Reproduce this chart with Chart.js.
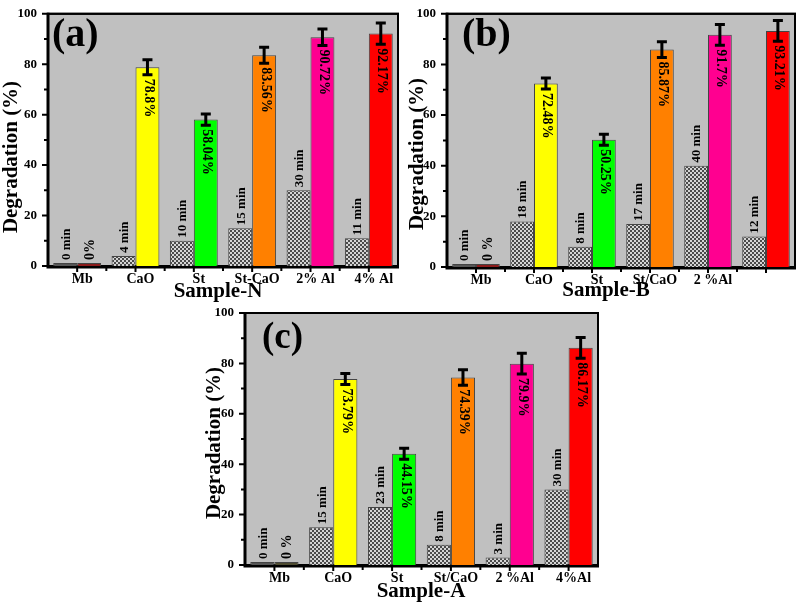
<!DOCTYPE html>
<html>
<head>
<meta charset="utf-8">
<script src="https://cdn.jsdelivr.net/npm/chart.js@4.4.1/dist/chart.umd.min.js"></script>
<style>
  html, body { margin: 0; padding: 0; background: #ffffff; }
  body { width: 804px; height: 606px; position: relative; overflow: hidden; }
  canvas { position: absolute; }
</style>
</head>
<body>
<canvas id="ca" width="400" height="302" style="left:0px;top:0px;width:400px;height:302px"></canvas>
<canvas id="cb" width="404" height="302" style="left:400px;top:0px;width:404px;height:302px"></canvas>
<canvas id="cc" width="404" height="316" style="left:200px;top:290px;width:404px;height:316px"></canvas>
<script>
// ---------- DATA ----------
const labelsA = ["Mb", "CaO", "St", "St-CaO", "2% Al", "4% Al"];
const labelsB = ["Mb", "CaO", "St", "St/CaO", "2 %Al", ""];
const labelsC = ["Mb", "CaO", "St", "St/CaO", "2 %Al", "4%Al"];

// time bars (grey hatched), minutes
const timeBarsA = [1.2, 4, 10, 15, 30, 11];
const timeBarsB = [1.2, 18, 8, 17, 40, 12];
const timeBarsC = [1.2, 15, 23, 8, 3, 30];
const timeTextA = ["0 min", "4 min", "10 min", "15 min", "30 min", "11 min"];
const timeTextB = ["0 min", "18 min", "8 min", "17 min", "40 min", "12 min"];
const timeTextC = ["0 min", "15 min", "23 min", "8 min", "3 min", "30 min"];

// degradation bars (coloured), %
const degA = [1.2, 78.8, 58.04, 83.56, 90.72, 92.17];
const degB = [1.2, 72.48, 50.25, 85.87, 91.7, 93.21];
const degC = [1.2, 73.79, 44.15, 74.39, 79.9, 86.17];
const degTextA = ["0%", "78.8%", "58.04%", "83.56%", "90.72%", "92.17%"];
const degTextB = ["0 %", "72.48%", "50.25%", "85.87%", "91.7%", "93.21%"];
const degTextC = ["0 %", "73.79%", "44.15%", "74.39%", "79.9%", "86.17%"];

// error bars (±)
const errA = [0, 3.0, 2.2, 3.2, 3.3, 4.2];
const errB = [0, 2.2, 2.2, 3.1, 4.1, 4.1];
const errC = [0, 2.2, 2.2, 3.1, 4.1, 4.1];

const yTicks = [0, 20, 40, 60, 80, 100];

// ---------- STYLE ----------
const FONT = "'Liberation Serif', 'Times New Roman', serif";

function hatch() {
  const c = document.createElement('canvas');
  c.width = 4; c.height = 4;
  const x = c.getContext('2d');
  x.fillStyle = '#d4d4d4'; x.fillRect(0, 0, 4, 4);
  x.fillStyle = '#4a4a4a'; x.fillRect(0, 0, 2, 2); x.fillRect(2, 2, 2, 2);
  return x.createPattern(c, 'repeat');
}

const panelPlugin = {
  id: 'panel',
  beforeDatasetsDraw(chart) {
    const { ctx, chartArea: a } = chart;
    ctx.save();
    ctx.fillStyle = '#c0c0c0';
    ctx.fillRect(a.left, a.top, a.right - a.left, a.bottom - a.top);
    // frame drawn under the bars
    ctx.strokeStyle = '#000';
    ctx.lineWidth = 2;
    ctx.strokeRect(a.left, a.top, a.right - a.left, a.bottom - a.top);
    ctx.lineWidth = 3;
    ctx.beginPath();
    ctx.moveTo(a.left, a.top - 1); ctx.lineTo(a.left, a.bottom + 1);
    ctx.lineTo(a.right + 1, a.bottom + 1);
    ctx.stroke();
    ctx.restore();
  },
  afterDatasetsDraw(chart, args, o) {
    const { ctx, chartArea: a, scales } = chart;
    const ys = scales.y;
    const m0 = chart.getDatasetMeta(0), m1 = chart.getDatasetMeta(1);
    ctx.save();
    ctx.fillStyle = '#000';
    ctx.font = 'bold 13px ' + FONT;
    m0.data.forEach((bar, i) => {
      ctx.save();
      ctx.translate(bar.x + 1, bar.y - 3);
      ctx.rotate(-Math.PI / 2);
      ctx.textAlign = 'left'; ctx.textBaseline = 'middle';
      ctx.fillText(o.times[i], 0, 0);
      ctx.restore();
    });
    ctx.font = 'bold 14px ' + FONT;
    m1.data.forEach((bar, i) => {
      const e = o.errors[i];
      ctx.save();
      if (e > 0) {
        const y0 = ys.getPixelForValue(chart.data.datasets[1].data[i] - e) + 4;
        ctx.translate(bar.x + 1, y0);
        ctx.rotate(Math.PI / 2);
      } else {
        ctx.translate(bar.x + 1, bar.y - 3);
        ctx.rotate(-Math.PI / 2);
      }
      ctx.textAlign = 'left'; ctx.textBaseline = 'middle';
      ctx.fillText(o.degText[i], 0, 0);
      ctx.restore();
    });
    ctx.strokeStyle = '#000';
    m1.data.forEach((bar, i) => {
      const e = o.errors[i];
      if (!e) return;
      const v = chart.data.datasets[1].data[i];
      const yt = ys.getPixelForValue(v + e), yb = ys.getPixelForValue(v - e);
      ctx.lineWidth = 3;
      ctx.beginPath();
      ctx.moveTo(bar.x, yt); ctx.lineTo(bar.x, yb);
      ctx.moveTo(bar.x - 5, yt); ctx.lineTo(bar.x + 5, yt);
      ctx.moveTo(bar.x - 5, yb); ctx.lineTo(bar.x + 5, yb);
      ctx.stroke();
    });
    ctx.restore();
  },
  afterDraw(chart, args, o) {
    const { ctx, chartArea: a, scales } = chart;
    const xs = scales.x, ys = scales.y;
    ctx.save();
    ctx.strokeStyle = '#000';
    // top/right border over bars
    ctx.lineWidth = 2;
    ctx.beginPath();
    ctx.moveTo(a.left, a.top); ctx.lineTo(a.right, a.top); ctx.lineTo(a.right, a.bottom);
    ctx.stroke();
    // y ticks
    ctx.lineWidth = 2;
    ctx.beginPath();
    for (let v = 0; v <= 100; v += 10) {
      const y = ys.getPixelForValue(v);
      const len = (v % 20 === 0) ? 6 : 4;
      ctx.moveTo(a.left, y); ctx.lineTo(a.left - len, y);
    }
    const n = chart.data.labels.length;
    for (let i = 0; i < n; i++) {
      const x = xs.getPixelForValue(i);
      ctx.moveTo(x, a.bottom); ctx.lineTo(x, a.bottom + 6);
      if (i > 0) {
        const xb = (xs.getPixelForValue(i - 1) + x) / 2;
        ctx.moveTo(xb, a.bottom); ctx.lineTo(xb, a.bottom + 5);
      }
    }
    ctx.stroke();
    ctx.fillStyle = '#000';
    ctx.font = 'bold ' + o.letterSize + 'px ' + FONT;
    ctx.textAlign = 'left'; ctx.textBaseline = 'middle';
    ctx.fillText(o.letter, o.letterX, o.letterY);
    ctx.font = 'bold 21px ' + FONT;
    ctx.save();
    ctx.translate(o.yTitleX, o.yTitleY);
    ctx.rotate(-Math.PI / 2);
    ctx.textAlign = 'center'; ctx.textBaseline = 'middle';
    ctx.fillText('Degradation (%)', 0, 0);
    ctx.restore();
    ctx.font = 'bold 21px ' + FONT;
    ctx.textAlign = 'center'; ctx.textBaseline = 'middle';
    ctx.fillText(o.xTitle, o.xTitleX, o.xTitleY);
    ctx.restore();
  }
};

function makeChart(id, cfg) {
  const pat = hatch();
  const greyColors = cfg.timeBars.map((v, i) => i === 0 ? '#555555' : pat);
  const degColors = [cfg.mbColor, '#ffff00', '#00ff00', '#ff8000', '#ff0090', '#ff0000'];
  return new Chart(document.getElementById(id), {
    type: 'bar',
    data: {
      labels: cfg.labels,
      datasets: [
        { data: cfg.timeBars, backgroundColor: greyColors, borderColor: '#444', borderWidth: 1,
          categoryPercentage: 0.82, barPercentage: 1.0 },
        { data: cfg.deg, backgroundColor: degColors, borderColor: '#444', borderWidth: 1,
          categoryPercentage: 0.82, barPercentage: 1.0 }
      ]
    },
    options: {
      responsive: false,
      animation: false,
      events: [],
      layout: { padding: { top: cfg.padTop, right: cfg.padRight, left: 0, bottom: 0 } },
      plugins: {
        legend: { display: false },
        tooltip: { enabled: false },
        panel: {
          times: cfg.timeText, degText: cfg.degText, errors: cfg.err,
          letter: cfg.letter, letterX: cfg.letterX, letterY: cfg.letterY, letterSize: cfg.letterSize,
          yTitleX: cfg.yTitleX, yTitleY: cfg.yTitleY,
          xTitle: cfg.xTitle, xTitleX: cfg.xTitleX, xTitleY: cfg.xTitleY
        }
      },
      scales: {
        x: {
          grid: { display: false, drawTicks: true, tickLength: 5 },
          border: { display: false },
          ticks: { color: '#000', font: { family: FONT, size: 14, weight: 'bold' }, padding: 0,
                   labelOffset: 5, maxRotation: 0, autoSkip: false },
          afterFit: s => { s.height = cfg.xAxisH; }
        },
        y: {
          min: 0, max: 100,
          afterBuildTicks: s => { s.ticks = yTicks.map(v => ({ value: v })); },
          grid: { display: false, drawTicks: true, tickLength: 5 },
          border: { display: false },
          ticks: { color: '#000', font: { family: FONT, size: 13, weight: 'bold' }, padding: 6 },
          afterFit: s => { s.width = cfg.yAxisW; }
        }
      }
    },
    plugins: [panelPlugin]
  });
}

makeChart('ca', {
  labels: labelsA, timeBars: timeBarsA, timeText: timeTextA, deg: degA, degText: degTextA, err: errA,
  mbColor: '#8b1a1a', padTop: 10, padRight: 2, yAxisW: 48, xAxisH: 36,
  letter: '(a)', letterX: 52, letterY: 36, letterSize: 40,
  yTitleX: 12, yTitleY: 157, xTitle: 'Sample-N', xTitleX: 218, xTitleY: 292
});
makeChart('cb', {
  labels: labelsB, timeBars: timeBarsB, timeText: timeTextB, deg: degB, degText: degTextB, err: errB,
  mbColor: '#8b1a1a', padTop: 11, padRight: 9, yAxisW: 47, xAxisH: 35,
  letter: '(b)', letterX: 62, letterY: 36, letterSize: 40,
  yTitleX: 18, yTitleY: 154, xTitle: 'Sample-B', xTitleX: 206, xTitleY: 291
});
makeChart('cc', {
  labels: labelsC, timeBars: timeBarsC, timeText: timeTextC, deg: degC, degText: degTextC, err: errC,
  mbColor: '#4d4a30', padTop: 23, padRight: 6, yAxisW: 45, xAxisH: 41,
  letter: '(c)', letterX: 62, letterY: 48, letterSize: 37,
  yTitleX: 15, yTitleY: 153, xTitle: 'Sample-A', xTitleX: 221, xTitleY: 302
});
</script>
</body>
</html>
